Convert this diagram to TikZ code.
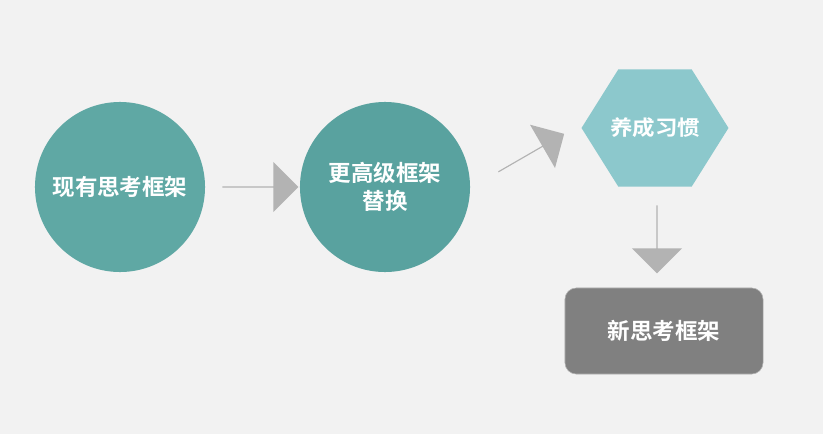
\documentclass[tikz,border=0pt]{standalone}
\usepackage{fontspec}
\newfontfamily\cjk{Noto Sans CJK SC Bold}
\usetikzlibrary{shapes.geometric,shapes.arrows,positioning}
\definecolor{bgc}{HTML}{F2F2F2}
\definecolor{tealA}{HTML}{5FA8A4}
\definecolor{tealB}{HTML}{59A29F}
\definecolor{hexc}{HTML}{8CC8CC}
\definecolor{arrc}{HTML}{B3B3B3}
\definecolor{boxc}{HTML}{808080}
\begin{document}
\begin{tikzpicture}[x=0.025cm,y=-0.025cm,
  txt/.style={text=white,font=\cjk\fontsize{16}{20}\selectfont,align=center},
  blockarrow/.style={single arrow,fill=arrc,minimum height=1.9cm,minimum width=1.25cm,single arrow head extend=0.3cm,inner sep=0pt}]
\fill[bgc] (0,0) rectangle (823,434);
\node[circle,fill=tealA,minimum size=4.25cm,txt] at (120,187) (old) {现有思考框架};
\node[circle,fill=tealB,minimum size=4.25cm,txt] at (385,187) (high) {更高级框架\\替换};
\node[regular polygon,regular polygon sides=6,fill=hexc,minimum size=3.5cm,inner sep=0pt,xscale=1,yscale=0.92,txt] at (655,128) (habit) {养成习惯};
\node[rounded corners=8pt,fill=boxc,draw=gray!60,minimum width=4.95cm,minimum height=2.15cm,txt] at (664,331) (new) {新思考框架};
\node[blockarrow] at (260,187) (a1) {};
\node[blockarrow,rotate=30] at (531,153) (a2) {};
\node[blockarrow,rotate=-90,minimum height=1.7cm] at (657,239) (a3) {};
\end{tikzpicture}
\end{document}
